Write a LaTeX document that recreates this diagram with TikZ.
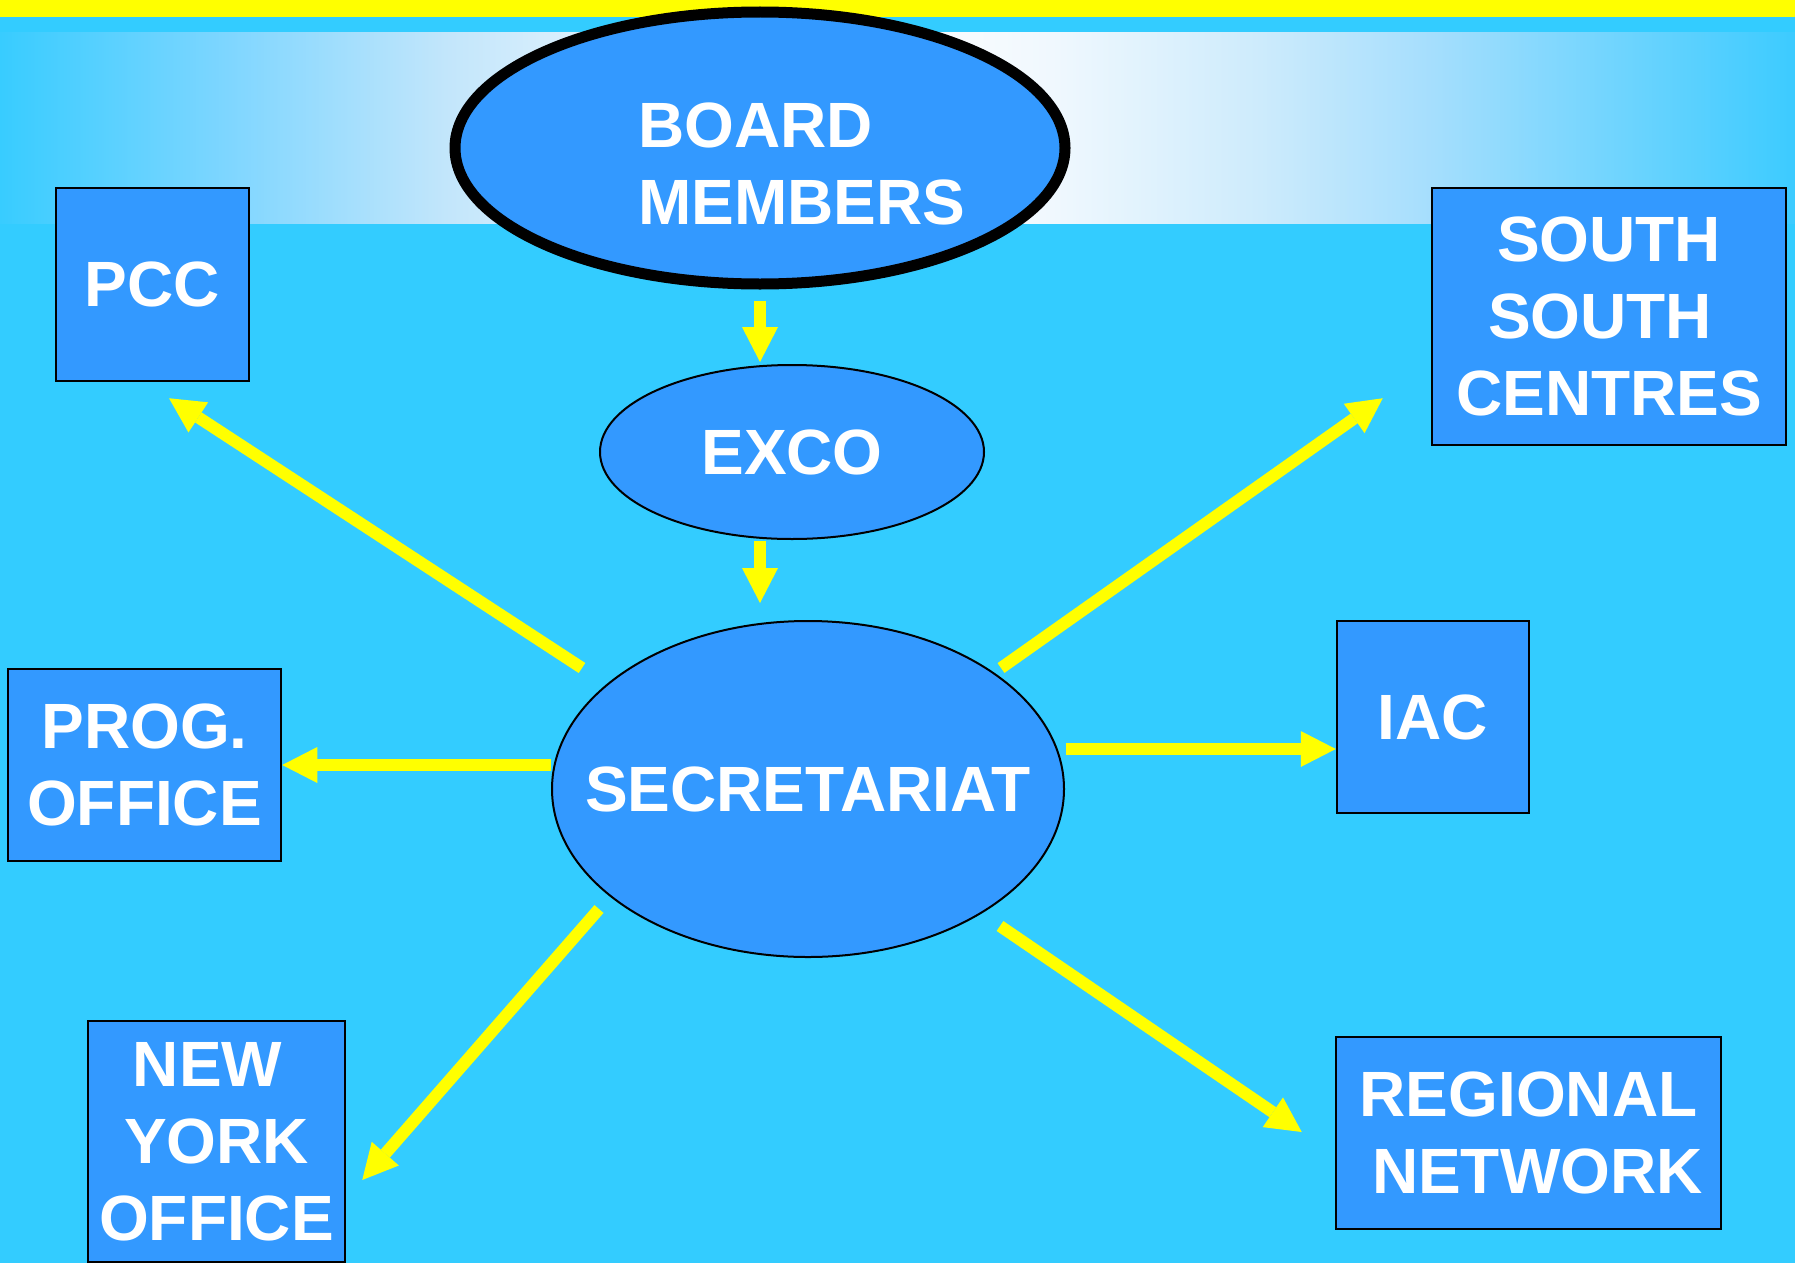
\documentclass[tikz,border=0pt]{standalone}
\usepackage{fontspec}
\setmainfont{Liberation Sans}
\usetikzlibrary{shapes.geometric,arrows.meta,calc}
\definecolor{bg}{HTML}{33CCFF}
\definecolor{nodefill}{HTML}{3399FF}
\definecolor{arr}{HTML}{FFFF00}
\definecolor{gL}{HTML}{38CCFF}
\definecolor{gA}{HTML}{7FD6FF}
\definecolor{gB}{HTML}{C3E6FB}
\definecolor{gC}{HTML}{E8F5FE}
\definecolor{gD}{HTML}{F0F8FE}
\definecolor{gE}{HTML}{CDEBFC}
\definecolor{gF}{HTML}{A5DEFD}
\definecolor{gR}{HTML}{3CCBFF}
\pgfdeclarehorizontalshading{band}{100bp}{color(0bp)=(gL); color(25bp)=(gL); color(31.4bp)=(gA); color(37.5bp)=(gB); color(43.1bp)=(gC); color(49bp)=(white); color(54.3bp)=(gD); color(60.1bp)=(gE); color(64.9bp)=(gF); color(75bp)=(gR); color(100bp)=(gR)}
\begin{document}
\begin{tikzpicture}[x=1pt,y=-1pt,
  txt/.style={text=white, font=\fontsize{64pt}{77pt}\selectfont\bfseries, align=center},
  box/.style={rectangle, draw=black, line width=2.5pt, fill=nodefill, inner sep=0pt, txt},
  oval/.style={ellipse, draw=black, line width=2pt, fill=nodefill, inner sep=0pt, txt},
  conn/.style={draw=arr, line width=12pt, -{Triangle[width=36pt,length=35pt,line width=0pt]}}]
\fill[bg] (0,0) rectangle (1795,1263);
\useasboundingbox (0,0) rectangle (1795,1263);
\fill[arr] (0,0) rectangle (1795,17);
\shade[shading=band] (0,33) rectangle (1795,223);

% ellipses
\node[oval, line width=11pt, minimum width=610pt, minimum height=272pt] (board) at (760,148) {};
\node[txt, align=left, anchor=west, inner sep=0pt] (boardtxt) at (638,164) {BOARD\\MEMBERS};
\node[oval, minimum width=384pt, minimum height=174pt] (exco) at (792,452) {EXCO};
\node[oval, minimum width=512pt, minimum height=336pt] (secr) at (808,789) {\makebox[0pt]{SECRETARIAT}};

% boxes
\node[box, minimum width=193pt, minimum height=193pt] (pcc) at (152.5,284.5) {PCC};
\node[box, minimum width=354pt, minimum height=257pt] (ssc) at (1609,316.5) {\raisebox{-3pt}{SOUTH}\\\raisebox{-3pt}{\mbox{SOUTH\ }}\\\raisebox{-3pt}{CENTRES}};
\node[box, minimum width=273pt, minimum height=192pt] (prog) at (144.5,765) {PROG.\\OFFICE};
\node[box, minimum width=192pt, minimum height=192pt] (iac) at (1433,717) {IAC};
\node[box, minimum width=257pt, minimum height=241pt] (ny) at (216.5,1141.5) {\mbox{NEW\ }\\YORK\\OFFICE};
\node[box, minimum width=385pt, minimum height=192pt] (reg) at (1528.5,1133) {REGIONAL\\\mbox{\ NETWORK}};

% connectors
\draw[conn, shorten <=11.5pt, shorten >=2pt] (board.south) -- (board.south |- exco.north);
\draw[conn, shorten <=1pt, shorten >=17pt] (exco.south -| board.south) -- (secr.north -| board.south);
\draw[conn] ($(secr.center)+(-226,-121)$) -- ($(pcc.south)+(16.5,16)$);
\draw[conn] (prog.east -| secr.west) -- (prog.east);
\draw[conn] ($(secr.east)+(1,-40)$) -- ($(iac.west)+(0,32)$);
\draw[conn] ($(secr.center)+(193,-121)$) -- ($(ssc.south west)+(-48,-48)$);
\draw[conn] ($(secr.center)+(-209,120)$) -- ($(ny.east)+(16,38.5)$);
\draw[conn] ($(secr.center)+(192,137)$) -- ($(reg.west)+(-33,-1)$);
\end{tikzpicture}
\end{document}
